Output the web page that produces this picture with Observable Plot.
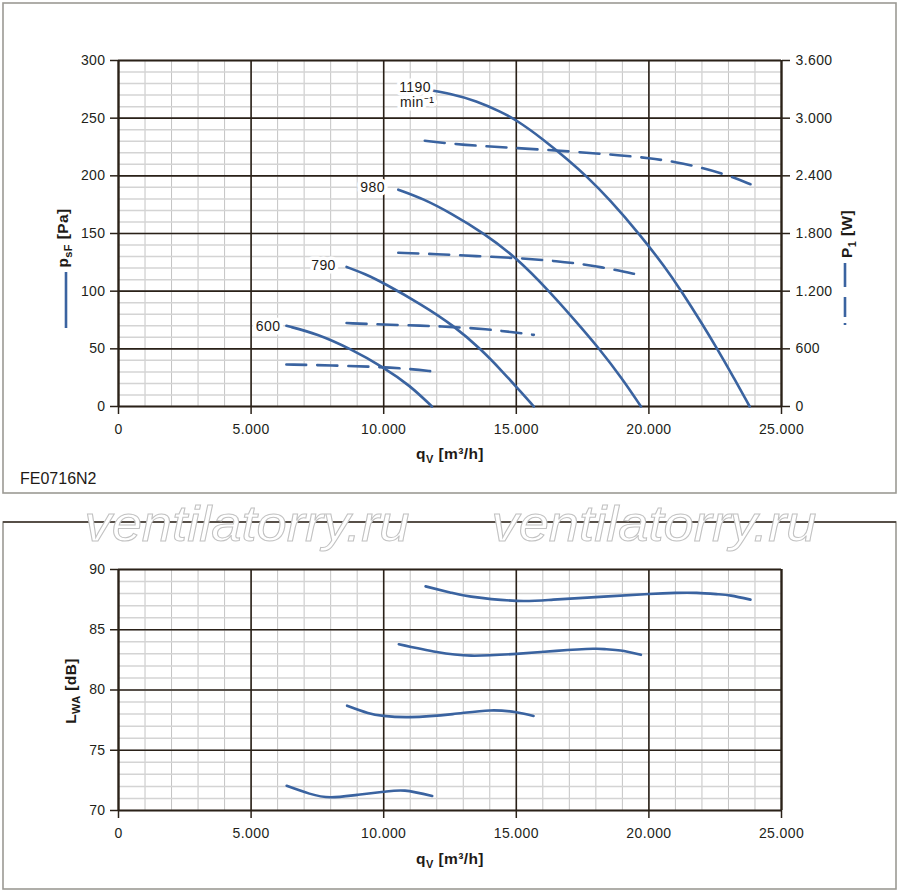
<!DOCTYPE html>
<html>
<head>
<meta charset="utf-8">
<script src="https://cdn.jsdelivr.net/npm/d3@7"></script>
<script src="https://cdn.jsdelivr.net/npm/@observablehq/plot@0.6"></script>
<style>
  html, body { margin: 0; padding: 0; background: #fff; }
  #wrap { position: relative; width: 900px; height: 892px; overflow: hidden; background: #fff; }
  #wrap > svg, #wrap > div { position: absolute; left: 0; }
</style>
</head>
<body>
<div id="wrap"></div>
<script>
// ---------------- DATA ----------------
const speeds = ["600", "790", "980", "1190"];

// Static pressure p_sF [Pa] vs flow q_V [m³/h]
const pressure600  = [[6330,70],[7500,63],[8750,50],[10000,34],[11000,18],[11820,0]];
const pressure790  = [[8600,121],[9300,115],[10000,107],[11390,89],[12650,70],[13700,49],[14530,29],[15000,17],[15660,0]];
const pressure980  = [[10550,188],[11500,180],[12500,168],[13800,150],[15000,129],[16200,101],[17200,75],[18100,51],[19000,24],[19700,0]];
const pressure1190 = [[11550,275],[12500,271.5],[13500,265],[14420,255.5],[15000,248.5],[16000,232],[17000,213],[17630,200],[18500,180],[19700,148],[20600,121],[21200,101],[22000,72],[22600,49],[23200,25],[23800,0]];

// Power input P1 [W] vs flow
const power600  = [[6330,437],[8000,428],[10000,410],[11000,390],[11850,365]];
const power790  = [[8600,868],[10000,852],[11390,842],[12600,828],[13900,804],[14800,775],[15660,745]];
const power980  = [[10550,1600],[12000,1585],[13500,1565],[15000,1545],[16500,1515],[18000,1465],[19700,1365]];
const power1190 = [[11550,2765],[13000,2720],[15000,2690],[17000,2655],[19000,2612],[20000,2585],[21000,2545],[22000,2485],[23000,2405],[23850,2310]];

// Sound power level L_WA [dB] vs flow
const noise600  = [[6340,72.05],[7200,71.4],[8000,71.1],[9000,71.3],[10000,71.55],[10800,71.65],[11830,71.2]];
const noise790  = [[8620,78.7],[9400,78.1],[10000,77.85],[11000,77.75],[12600,78.0],[14000,78.3],[15000,78.15],[15650,77.85]];
const noise980  = [[10570,83.8],[12000,83.15],[13300,82.85],[15000,83.0],[16500,83.25],[17900,83.42],[18400,83.38],[18930,83.28],[19700,82.92]];
const noise1190 = [[11580,88.6],[12500,88.1],[13300,87.75],[15000,87.4],[16400,87.5],[18300,87.75],[20000,87.97],[21000,88.06],[21800,88.06],[22600,87.95],[23100,87.83],[23830,87.5]];

// Tick labels
const xTicks = [0, 5000, 10000, 15000, 20000, 25000];
const pTicks = [0, 50, 100, 150, 200, 250, 300];
const wTicks = [0, 600, 1200, 1800, 2400, 3000, 3600];
const lTicks = [70, 75, 80, 85, 90];

// Speed labels (data coordinates)
const speedLabels = [
  {q: 11180, p: 277, text: "1190", anchor: "end"},
  {q: 11260, p: 264, text: "min⁻¹", anchor: "end"},
  {q: 9580,  p: 190, text: "980", anchor: "middle"},
  {q: 7730,  p: 122, text: "790", anchor: "middle"},
  {q: 5640,  p: 69.5, text: "600", anchor: "middle"}
];
const modelName = "FE0716N2";
const watermark = "ventilatorry.ru";

// ---------------- HELPERS ----------------
const de = d3.formatLocale({decimal: ",", thousands: ".", grouping: [3], currency: ["", "€"]});
const fmt = de.format(",d");
const blue = "#3a63a0";
const dark = "#2a2118";
const FONT = "'Liberation Sans', Arial, Helvetica, sans-serif";

function rows(list) {
  const out = [];
  list.forEach(([rpm, arr]) => arr.forEach(([q, v]) => out.push({rpm, q, v})));
  return out;
}
const pRows = rows([["600", pressure600], ["790", pressure790], ["980", pressure980], ["1190", pressure1190]]);
const wRows = rows([["600", power600], ["790", power790], ["980", power980], ["1190", power1190]]);
const nRows = rows([["600", noise600], ["790", noise790], ["980", noise980], ["1190", noise1190]]);

const minorX = d3.range(0, 25001, 1000);
const minorP = d3.range(0, 301, 10);
const minorL = d3.range(70, 91, 1);
const innerX = xTicks.slice(1, -1);
const edgeX = [xTicks[0], xTicks[xTicks.length - 1]];
const tickStyle = {fontFamily: FONT, fontSize: "14px", color: "#231f1a", background: "transparent", letterSpacing: "0.4px"};

const wrapEl = document.getElementById("wrap");

// ---------------- TOP CHART ----------------
const topChart = Plot.plot({
  width: 900, height: 500,
  marginLeft: 118, marginRight: 119, marginTop: 60, marginBottom: 94,
  x: {domain: [0, 25000]},
  y: {domain: [0, 300]},
  style: tickStyle,
  marks: [
    Plot.ruleX(minorX, {stroke: "#c4c4c4", strokeWidth: 1}),
    Plot.ruleY(minorP, {stroke: "#d4d4d4", strokeWidth: 1.5}),
    Plot.ruleX(innerX, {stroke: dark, strokeWidth: 1.6}),
    Plot.ruleY(pTicks.slice(1, -1), {stroke: dark, strokeWidth: 1.6}),
    Plot.ruleX(edgeX, {stroke: dark, strokeWidth: 2.4}),
    Plot.ruleY([pTicks[0], pTicks[pTicks.length - 1]], {stroke: dark, strokeWidth: 2.2}),
    Plot.axisX(xTicks, {tickSize: 8, tickPadding: 10, tickFormat: fmt, label: null, strokeWidth: 1.5, stroke: dark}),
    Plot.axisY(pTicks, {anchor: "left", tickSize: 8, tickPadding: 5, tickFormat: fmt, label: null, strokeWidth: 1.5, stroke: dark}),
    Plot.axisY(wTicks.map(w => w / 12), {anchor: "right", tickSize: 8, tickPadding: 6, tickFormat: d => fmt(Math.round(d * 12)), label: null, strokeWidth: 1.5, stroke: dark}),
    Plot.line(wRows, {x: "q", y: d => d.v / 12, z: "rpm", stroke: blue, strokeWidth: 2.6, strokeDasharray: "20 11", curve: "basis"}),
    Plot.line(pRows, {x: "q", y: "v", z: "rpm", stroke: blue, strokeWidth: 2.6, curve: "basis"}),
    Plot.text(speedLabels, {x: "q", y: "p", text: "text", textAnchor: "anchor", fill: "#1e1a16", stroke: "white", strokeWidth: 7, paintOrder: "stroke", fontSize: 14})
  ]
});
topChart.style.top = "0px";
wrapEl.appendChild(topChart);

// ---------------- BOTTOM CHART ----------------
const bottomChart = Plot.plot({
  width: 900, height: 392,
  marginLeft: 118, marginRight: 119, marginTop: 69, marginBottom: 82,
  x: {domain: [0, 25000]},
  y: {domain: [70, 90]},
  style: tickStyle,
  marks: [
    Plot.ruleX(minorX, {stroke: "#c4c4c4", strokeWidth: 1}),
    Plot.ruleY(minorL, {stroke: "#d4d4d4", strokeWidth: 1.5}),
    Plot.ruleX(innerX, {stroke: dark, strokeWidth: 1.6}),
    Plot.ruleY(lTicks.slice(1, -1), {stroke: dark, strokeWidth: 1.6}),
    Plot.ruleX(edgeX, {stroke: dark, strokeWidth: 2.4}),
    Plot.ruleY([lTicks[0], lTicks[lTicks.length - 1]], {stroke: dark, strokeWidth: 2.2}),
    Plot.axisX(xTicks, {tickSize: 8, tickPadding: 10, tickFormat: fmt, label: null, strokeWidth: 1.5, stroke: dark}),
    Plot.axisY(lTicks, {anchor: "left", tickSize: 8, tickPadding: 5, label: null, strokeWidth: 1.5, stroke: dark}),
    Plot.line(nRows, {x: "q", y: "v", z: "rpm", stroke: blue, strokeWidth: 2.6, curve: "natural"})
  ]
});
bottomChart.style.top = "500px";
wrapEl.appendChild(bottomChart);

// ---------------- OVERLAY (boxes, titles, legend keys, watermark) ----------------
const ov = d3.select(wrapEl).append("svg")
  .attr("width", 900).attr("height", 892)
  .style("position", "absolute").style("left", "0px").style("top", "0px")
  .style("pointer-events", "none")
  .attr("font-family", FONT);

ov.append("rect").attr("x", 3).attr("y", 3).attr("width", 893).attr("height", 490)
  .attr("fill", "none").attr("stroke", "#9c9a94").attr("stroke-width", 1.6);
ov.append("rect").attr("x", 3).attr("y", 522).attr("width", 893).attr("height", 367)
  .attr("fill", "none").attr("stroke", "#9c9a94").attr("stroke-width", 1.6);
ov.append("line").attr("x1", 3).attr("x2", 896).attr("y1", 522).attr("y2", 522)
  .attr("stroke", "#3a3128").attr("stroke-width", 1.4);

function subLabel(g, parts, attrs) {
  const t = g.append("text").attr("font-weight", "bold").attr("fill", "#1e1a16").attr("letter-spacing", "0.4px");
  Object.entries(attrs).forEach(([k, v]) => t.attr(k, v));
  let prevSub = false;
  parts.forEach(([s, sub]) => {
    const ts = t.append("tspan").text(s);
    if (sub) { ts.attr("font-size", 11).attr("dy", 4); prevSub = true; }
    else { ts.attr("font-size", 15.5).attr("dy", prevSub ? -4 : 0); prevSub = false; }
  });
  return t;
}

// x-axis titles
subLabel(ov, [["q"], ["V", true], [" [m³/h]"]], {x: 450, y: 459, "text-anchor": "middle"});
subLabel(ov, [["q"], ["V", true], [" [m³/h]"]], {x: 450, y: 864, "text-anchor": "middle"});
// y-axis titles
subLabel(ov, [["p"], ["sF", true], [" [Pa]"]], {transform: "translate(68,238) rotate(-90)", "text-anchor": "middle"});
subLabel(ov, [["P"], ["1", true], [" [W]"]], {transform: "translate(852,234) rotate(-90)", "text-anchor": "middle"});
subLabel(ov, [["L"], ["WA", true], [" [dB]"]], {transform: "translate(76,691) rotate(-90)", "text-anchor": "middle"});

// legend keys
ov.append("line").attr("x1", 66).attr("x2", 66).attr("y1", 272).attr("y2", 328)
  .attr("stroke", blue).attr("stroke-width", 2.6);
ov.append("line").attr("x1", 845).attr("x2", 845).attr("y1", 263).attr("y2", 326)
  .attr("stroke", blue).attr("stroke-width", 2.6).attr("stroke-dasharray", "24 10 20 6 2 60");

// model name
ov.append("text").attr("x", 20).attr("y", 484).attr("font-size", 16).attr("fill", "#1e1a16").text(modelName);

// watermark
[247, 654].forEach(cx => {
  ov.append("text").attr("x", cx).attr("y", 541).attr("text-anchor", "middle")
    .attr("font-size", 50).attr("font-style", "italic")
    .attr("textLength", 325).attr("lengthAdjust", "spacingAndGlyphs")
    .attr("fill", "white").attr("stroke", "#c2c2c2").attr("stroke-width", 1)
    .text(watermark);
});
</script>
</body>
</html>
